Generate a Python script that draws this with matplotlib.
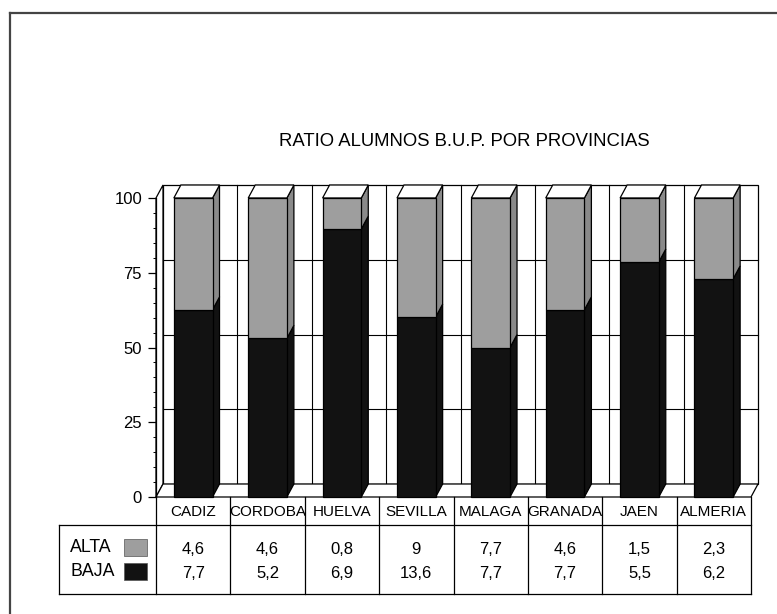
import matplotlib
matplotlib.use('Agg')
import matplotlib.pyplot as plt
from matplotlib.patches import Polygon, Rectangle
from matplotlib.transforms import Affine2D, IdentityTransform
from matplotlib.ticker import MultipleLocator

# datos por provincia
provincias = ['CADIZ', 'CORDOBA', 'HUELVA', 'SEVILLA', 'MALAGA', 'GRANADA', 'JAEN', 'ALMERIA']
alta = [4.6, 4.6, 0.8, 9, 7.7, 4.6, 1.5, 2.3]
baja = [7.7, 5.2, 6.9, 13.6, 7.7, 7.7, 5.5, 6.2]

# barras al 100%: parte de BAJA sobre el total
pct_baja = [b / (a + b) * 100 for a, b in zip(alta, baja)]

W, H = 777, 614
NEGRO = '#121212'
GRIS = '#9e9e9e'
GRIS_LADO = '#8a8a8a'
DX, DY = 7, 13          # profundidad 3D en pixeles
ANCHO = 0.52

plt.rcParams['font.family'] = ['Liberation Sans', 'DejaVu Sans']

fig = plt.figure(figsize=(W / 100, H / 100), dpi=100)
ax = fig.add_axes([156 / W, 1 - 497 / H, (751 - 156) / W, (497 - 198) / H])
ax.set_xlim(-0.5, len(provincias) - 0.5)
ax.set_ylim(0, 100)
ax.patch.set_visible(False)
for s in ['top', 'right', 'bottom']:
    ax.spines[s].set_visible(False)
ax.spines['left'].set_linewidth(0.9)
ax.spines['left'].set_zorder(10)
ax.set_xticks([])
ax.yaxis.set_major_locator(MultipleLocator(25))
ax.yaxis.set_minor_locator(MultipleLocator(5))
ax.tick_params(axis='y', which='major', length=6, width=0.9, pad=4, labelsize=12)
ax.tick_params(axis='y', which='minor', length=2.2, width=0.7)

fondo = ax.transData + Affine2D().translate(DX, DY)
x_ini, x_fin = -0.5, len(provincias) - 0.5


def disp(x, y, d=0):
    px, py = ax.transData.transform((x, y))
    return (px + d * DX, py + d * DY)


def cara(puntos, **kw):
    ax.add_patch(Polygon([disp(*p) for p in puntos], closed=True,
                         transform=IdentityTransform(), clip_on=False,
                         ec='black', lw=0.9, **kw))


# pared del fondo con rejilla
ax.add_patch(Rectangle((x_ini, 0), x_fin - x_ini, 100, transform=fondo,
                       fc='white', ec='black', lw=0.9, clip_on=False, zorder=1))
for y in [25, 50, 75]:
    ax.plot([x_ini, x_fin], [y, y], transform=fondo, color='black', lw=0.8,
            clip_on=False, zorder=1.5)
for i in range(1, len(provincias)):
    ax.plot([i - 0.5, i - 0.5], [0, 100], transform=fondo, color='black', lw=0.8,
            clip_on=False, zorder=1.5)

# pared lateral y suelo
cara([(x_ini, 0, 0), (x_ini, 100, 0), (x_ini, 100, 1), (x_ini, 0, 1)], fc='white', zorder=2)
cara([(x_ini, 0, 0), (x_fin, 0, 0), (x_fin, 0, 1), (x_ini, 0, 1)], fc='white', zorder=2)

# barras apiladas
for i, pb in enumerate(pct_baja):
    x0, x1 = i - ANCHO / 2, i + ANCHO / 2
    ax.bar(i, pb, ANCHO, color=NEGRO, ec='black', lw=0.9, zorder=4, clip_on=False)
    ax.bar(i, 100 - pb, ANCHO, bottom=pb, color=GRIS, ec='black', lw=0.9,
           zorder=4, clip_on=False)
    cara([(x1, 0, 0), (x1, pb, 0), (x1, pb, 1), (x1, 0, 1)], fc=NEGRO, zorder=3)
    cara([(x1, pb, 0), (x1, 100, 0), (x1, 100, 1), (x1, pb, 1)], fc=GRIS_LADO, zorder=3)
    cara([(x0, 100, 0), (x1, 100, 0), (x1, 100, 1), (x0, 100, 1)], fc='white', zorder=3)

# tabla de datos bajo el grafico
tabla = ax.get_xaxis_transform()


def yt(py):
    return (497 - py) / (497 - 198)


x_izq = x_ini + (59 - 156) / ((751 - 156) / len(provincias))
for i in range(len(provincias) + 1):
    ax.plot([i - 0.5, i - 0.5], [yt(497), yt(594)], transform=tabla,
            color='black', lw=0.9, clip_on=False)
for py in [525, 594]:
    ax.plot([x_izq, x_fin], [yt(py), yt(py)], transform=tabla,
            color='black', lw=0.9, clip_on=False)
ax.plot([x_izq, x_izq], [yt(525), yt(594)], transform=tabla,
        color='black', lw=0.9, clip_on=False)


def fmt(v):
    return f'{v:g}'.replace('.', ',')


for i, nombre in enumerate(provincias):
    ax.text(i, yt(512), nombre, transform=tabla, ha='center', va='center',
            fontsize=11)
    ax.text(i, yt(549), fmt(alta[i]), transform=tabla, ha='center', va='center', fontsize=12)
    ax.text(i, yt(573), fmt(baja[i]), transform=tabla, ha='center', va='center', fontsize=12)

# leyenda dentro de la tabla
for nombre, color, py in [('ALTA', GRIS, 548), ('BAJA', NEGRO, 572)]:
    fig.text(70 / W, 1 - py / H, nombre, ha='left', va='center', fontsize=12.8)
    fig.patches.append(Rectangle((124 / W, 1 - (py + 8) / H), 23 / W, 17 / H,
                                 transform=fig.transFigure, fc=color, ec='#555555',
                                 lw=0.5))

fig.text(464 / W, 1 - 141 / H, 'RATIO ALUMNOS B.U.P. POR PROVINCIAS',
         ha='center', va='center', fontsize=13.3)

# marco de la pagina
fig.add_artist(plt.Line2D([10 / W, 10 / W], [0, 1 - 13 / H], color='#444444', lw=1.6))
fig.add_artist(plt.Line2D([10 / W, 1], [1 - 13 / H, 1 - 13 / H], color='#444444', lw=1.6))

fig.savefig('out.png', dpi=100)
